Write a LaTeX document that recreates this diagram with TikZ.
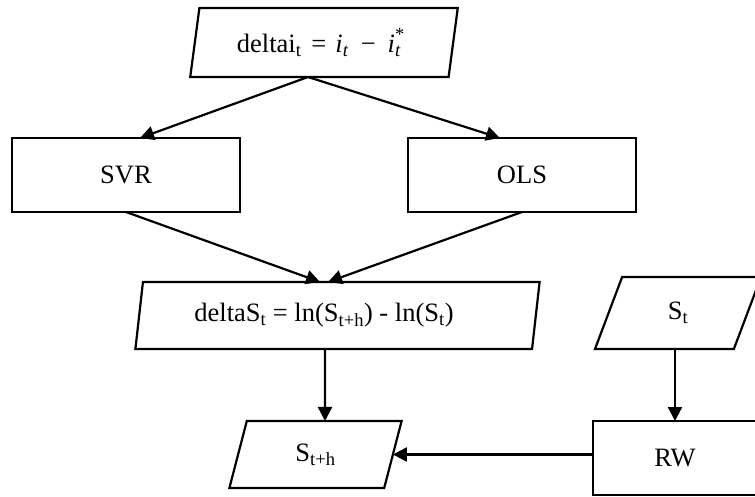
\documentclass[tikz,border=0pt]{standalone}
\usepackage{fontspec}
\setmainfont{Liberation Serif}
\usetikzlibrary{shapes.geometric,arrows.meta}
\begin{document}
\begin{tikzpicture}[x=1pt,y=-1pt,
  every node/.style={font=\fontsize{26.5}{31}\selectfont, inner sep=0pt, outer sep=0pt},
  boxnode/.style={draw, line width=2.2pt, rectangle, minimum width=228pt, minimum height=74pt},
  para/.style={draw, line width=2.2pt, trapezium, trapezium left angle=77, trapezium right angle=103, trapezium stretches=true},
  arr/.style={line width=2.2pt, -{Triangle[length=14pt,width=14pt]}}
]
\useasboundingbox (0,0) rectangle (755,497);

\node[para, minimum width=268pt, minimum height=69pt] (top) at (324,42.5)
  {deltai\textsubscript{t}\hspace{0.12em} = \hspace{0.1em}\textit{i}\textsubscript{\textit{t}}\hspace{0.2em} − \hspace{0.2em}\textit{i}\rlap{\raisebox{0.1em}{\textsuperscript{*}}}\textsubscript{\textit{t}}\kern10pt};
\node[boxnode] (svr) at (126,175) {SVR};
\node[boxnode] (ols) at (522,175) {OLS};
\node[para, minimum width=405pt, minimum height=67pt] (mid) at (337.5,315.5)
  {deltaS\textsubscript{t} = ln(S\textsubscript{t+h}) - ln(S\textsubscript{t})\kern27pt};
\node[para, minimum width=166pt, minimum height=72pt] (st) at (678,313) {S\textsubscript{t}};
\node[para, minimum width=173pt, minimum height=67pt] (sth) at (315.5,454.5) {S\textsubscript{t+h}};
\node[boxnode, minimum width=164pt] (rw) at (675,458) {RW};

\coordinate (fork) at ([xshift=-16pt]top.south);
\draw[arr] (fork) -- ([xshift=14pt]svr.north);
\draw[arr] (fork) -- ([xshift=-22pt]ols.north);
\draw[arr] (svr.south) -- ([xshift=-17.5pt]mid.north);
\draw[arr] (ols.south) -- ([xshift=-9.5pt]mid.north);
\draw[arr] ([xshift=-12.5pt]mid.south) -- ([xshift=9.5pt]sth.north);
\draw[arr] (st.south -| rw.north) -- (rw.north);
\draw[arr] (rw.west |- sth.east) -- (sth.east);
\end{tikzpicture}
\end{document}
